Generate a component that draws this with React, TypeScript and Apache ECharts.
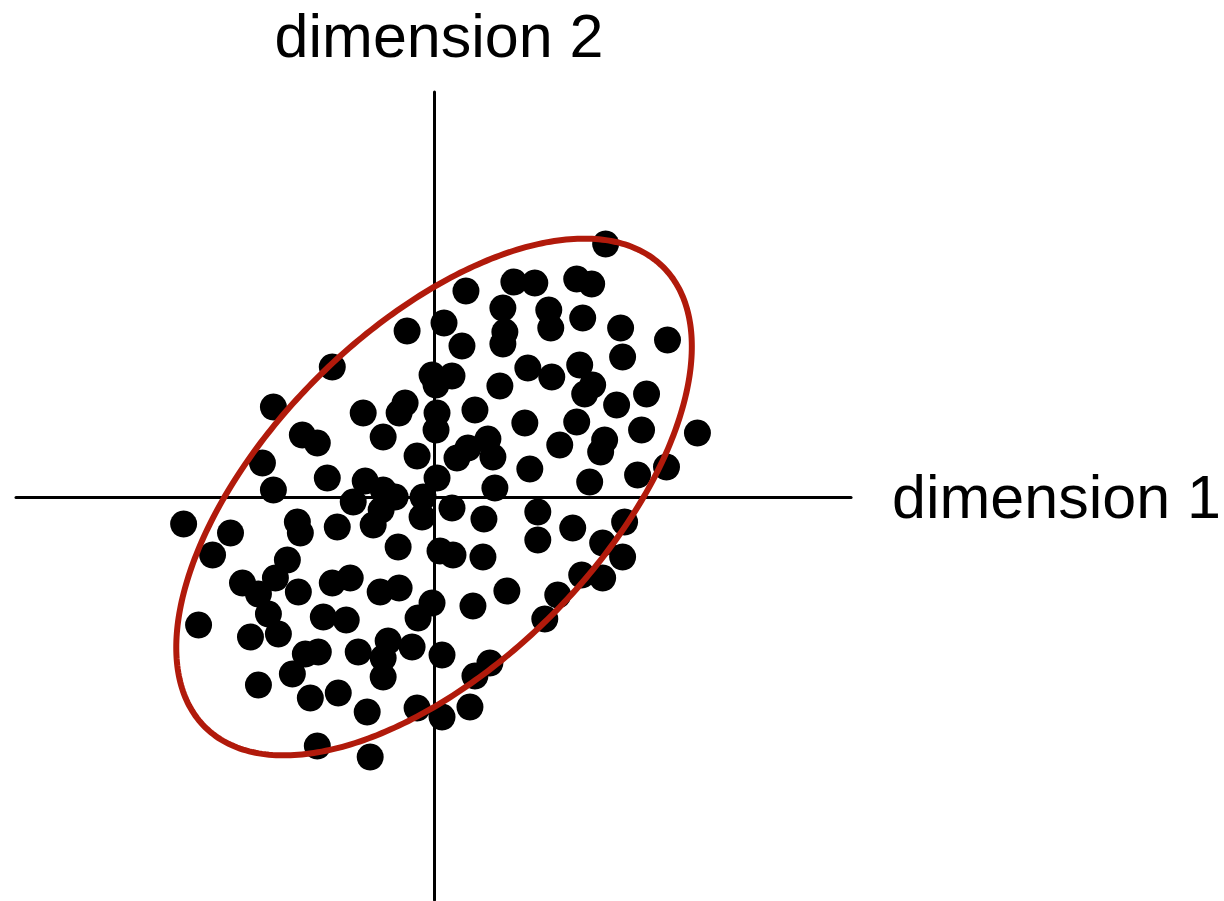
import React, { useEffect, useRef } from "react";
import * as echarts from "echarts";

// Observations: [dimension 1, dimension 2]
const points: [number, number][] = [
  [1.72, 2.53], [0.80, 2.15], [1.01, 2.14], [1.43, 2.18], [1.58, 2.13],
  [0.32, 2.06], [0.69, 1.89], [1.15, 1.87], [1.17, 1.69], [1.49, 1.79],
  [1.87, 1.69], [2.34, 1.57], [0.10, 1.74], [-0.27, 1.66], [0.71, 1.65],
  [0.69, 1.53], [0.28, 1.51], [1.89, 1.40], [-1.02, 1.30], [0.94, 1.29],
  [1.18, 1.20], [1.46, 1.32], [-0.02, 1.22], [0.18, 1.21], [0.02, 1.12],
  [0.66, 1.11], [1.59, 1.12], [1.51, 1.03], [2.13, 1.03], [-1.61, 0.90],
  [-0.71, 0.84], [-0.35, 0.84], [-0.29, 0.94], [0.03, 0.84], [0.41, 0.87],
  [1.83, 0.92], [0.91, 0.74], [1.43, 0.75], [0.02, 0.67], [-0.51, 0.60],
  [-1.32, 0.62], [-1.17, 0.54], [2.08, 0.67], [2.64, 0.64], [1.26, 0.52],
  [1.71, 0.57], [1.67, 0.45], [-0.17, 0.41], [0.23, 0.39], [0.34, 0.49],
  [0.54, 0.58], [0.59, 0.40], [-1.72, 0.34], [0.96, 0.28], [1.56, 0.15],
  [2.04, 0.22], [2.33, 0.30], [-1.07, 0.19], [-0.69, 0.16], [0.03, 0.19],
  [-1.61, 0.07], [0.61, 0.09], [-0.81, -0.05], [-0.51, 0.07], [-0.39, 0.00],
  [-0.53, -0.13], [-0.11, 0.00], [-0.12, -0.20], [0.18, -0.11], [-2.51, -0.27],
  [-2.04, -0.36], [-1.37, -0.25], [-1.34, -0.36], [-0.97, -0.30], [-0.61, -0.28],
  [0.50, -0.22], [1.04, -0.15], [1.39, -0.31], [1.91, -0.25], [1.04, -0.43],
  [-2.22, -0.58], [-1.47, -0.63], [-0.36, -0.50], [0.06, -0.54], [0.19, -0.58],
  [0.49, -0.60], [1.69, -0.46], [1.89, -0.60], [-1.92, -0.86], [-1.76, -0.97],
  [-1.59, -0.81], [-1.36, -0.95], [-1.02, -0.86], [-0.84, -0.81], [-0.54, -0.95],
  [-0.35, -0.91], [0.73, -0.94], [1.24, -0.98], [1.48, -0.78], [1.69, -0.81],
  [-0.02, -1.06], [-0.16, -1.21], [0.39, -1.09], [1.11, -1.22], [-1.66, -1.17],
  [-2.36, -1.28], [-1.11, -1.20], [-0.88, -1.23], [-1.84, -1.40], [-1.56, -1.37],
  [-0.76, -1.55], [-0.46, -1.44], [-0.51, -1.61], [-0.22, -1.50], [0.08, -1.58],
  [-1.29, -1.57], [-1.16, -1.55], [-1.42, -1.77], [-0.51, -1.80], [0.56, -1.66],
  [0.41, -1.79], [-1.76, -1.88], [-1.24, -2.01], [-0.96, -1.96], [-0.67, -2.15],
  [-0.17, -2.11], [0.08, -2.20], [0.36, -2.10], [-1.17, -2.49], [-0.64, -2.60],
];

// Confidence ellipse: [centre x, centre y, semi-major, semi-minor, rotation in degrees]
const ellipse: [number, number, number, number, number][] = [[0, 0, 3.25, 1.67, 45]];

// Axis extents
const xRange = [-4.19, 4.18];
const yRange = [-4.03, 4.05];

const axisNames = ["dimension 1", "dimension 2"];

export default function App() {
  const ref = useRef<HTMLDivElement>(null);

  useEffect(() => {
    if (!ref.current) return;
    const chart = echarts.init(ref.current, undefined, { renderer: "svg" });

    const hidden = {
      axisTick: { show: false },
      axisLabel: { show: false },
      splitLine: { show: false },
    };
    const nameStyle = {
      fontFamily: "Liberation Sans, Arial, Helvetica, sans-serif",
      fontSize: 61,
      color: "#000",
    };

    chart.setOption({
      animation: false,
      backgroundColor: "#fff",
      grid: { left: 16, right: 371, top: 92, bottom: 1, containLabel: false },
      xAxis: {
        type: "value",
        min: xRange[0],
        max: xRange[1],
        ...hidden,
        axisLine: { show: true, onZero: true, lineStyle: { color: "#000", width: 3 } },
        name: axisNames[0],
        nameLocation: "end",
        nameGap: 41,
        nameTextStyle: { ...nameStyle, align: "left", verticalAlign: "middle", padding: [14, 0, 0, 0] },
      },
      yAxis: {
        type: "value",
        min: yRange[0],
        max: yRange[1],
        ...hidden,
        axisLine: { show: true, onZero: true, lineStyle: { color: "#000", width: 3 } },
        name: axisNames[1],
        nameLocation: "end",
        nameGap: 26,
        nameTextStyle: { ...nameStyle, align: "center", verticalAlign: "bottom", padding: [0, 0, 0, 10] },
      },
      series: [
        {
          type: "scatter",
          data: points,
          symbol: "circle",
          symbolSize: 27,
          itemStyle: { color: "#000", opacity: 1 },
          z: 2,
        },
        {
          type: "custom",
          data: ellipse,
          encode: { x: 0, y: 1 },
          z: 5,
          clip: false,
          renderItem: (params: any, api: any) => {
            const cx = api.value(0);
            const cy = api.value(1);
            const a = api.value(2);
            const b = api.value(3);
            const rot = (api.value(4) * Math.PI) / 180;
            const pts: number[][] = [];
            for (let i = 0; i < 360; i++) {
              const t = (i * Math.PI) / 180;
              const u = a * Math.cos(t);
              const v = b * Math.sin(t);
              const x = cx + u * Math.cos(rot) - v * Math.sin(rot);
              const y = cy + u * Math.sin(rot) + v * Math.cos(rot);
              pts.push(api.coord([x, y]));
            }
            return {
              type: "polygon",
              shape: { points: pts },
              style: { fill: "none", stroke: "#b11a0b", lineWidth: 6 },
            };
          },
        },
      ],
    });

    return () => chart.dispose();
  }, []);

  return (
    <div
      ref={ref}
      style={{ position: "absolute", left: 0, top: 0, width: 1224, height: 901 }}
    />
  );
}
